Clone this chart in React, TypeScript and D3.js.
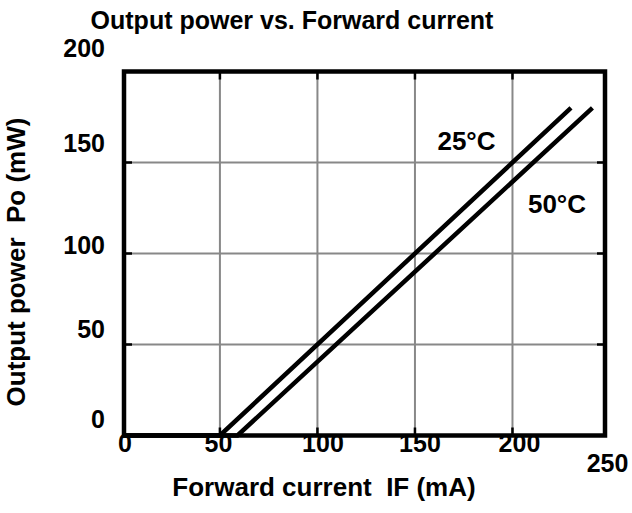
import React from 'react';
import * as d3 from 'd3';

// curve data: forward current IF (mA) vs output power Po (mW)
const if25 = [0, 50, 230];
const po25 = [0, 0, 180];
const if50 = [0, 59, 241];
const po50 = [0, 0, 180];

const xTicks = [0, 50, 100, 150, 200, 250];
const yTicks = [0, 50, 100, 150, 200];
const gridX = [50, 100, 150, 200];
const gridY = [50, 100, 150];

const W = 632;
const H = 513;
const FONT = '"Liberation Sans", Arial, sans-serif';

// label nudges to mimic the original (it isn't very tidy)
const yLabelDy: Record<number, number> = { 0: -7.5, 50: -6.5, 100: 0, 150: -10.5, 200: -14.5 };
const xLabelDx: Record<number, number> = { 0: 2.5, 50: -1.5, 100: 5.5, 150: 5, 200: 7, 250: -2.5 };

const App = () => {
  const x = d3.scaleLinear().domain([0, 250]).range([122.4, 610]);
  const y = d3.scaleLinear().domain([0, 200]).range([435.5, 71.5]);
  const frame = { left: 124, right: 605, top: y(200), bottom: y(0) };

  const line = d3.line<[number, number]>()
    .x(d => x(d[0]))
    .y(d => y(d[1]));

  const pts25 = if25.map((v, i) => [v, po25[i]] as [number, number]);
  const pts50 = if50.map((v, i) => [v, po50[i]] as [number, number]);

  return (
    <svg width={W} height={H} style={{ position: 'absolute', left: 0, top: 0, background: '#fff' }}
      fontFamily={FONT} fontWeight="bold">
      <rect width={W} height={H} fill="#fff" />
      <text x={292} y={29} textAnchor="middle" fontSize={25}>Output power vs. Forward current</text>

      {gridX.map(v => (
        <line key={'gx' + v} x1={x(v)} x2={x(v)} y1={frame.top} y2={frame.bottom} stroke="#888" strokeWidth={2} />
      ))}
      {gridY.map(v => (
        <line key={'gy' + v} x1={frame.left} x2={frame.right} y1={y(v)} y2={y(v)} stroke="#888" strokeWidth={2} />
      ))}

      {/* inward ticks */}
      {gridX.map(v => (
        <g key={'tx' + v} stroke="#000" strokeWidth={2.5}>
          <line x1={x(v)} x2={x(v)} y1={frame.top} y2={frame.top + 8} />
          <line x1={x(v)} x2={x(v)} y1={frame.bottom} y2={frame.bottom - 8} />
        </g>
      ))}
      {gridY.map(v => (
        <g key={'ty' + v} stroke="#000" strokeWidth={2.5}>
          <line x1={frame.left} x2={frame.left + 8} y1={y(v)} y2={y(v)} />
          <line x1={frame.right} x2={frame.right - 8} y1={y(v)} y2={y(v)} />
        </g>
      ))}

      <path d={line(pts25) || ''} fill="none" stroke="#000" strokeWidth={4.5} />
      <path d={line(pts50) || ''} fill="none" stroke="#000" strokeWidth={4.5} />

      <rect x={frame.left} y={frame.top} width={frame.right - frame.left} height={frame.bottom - frame.top}
        fill="none" stroke="#000" strokeWidth={4.5} />

      {yTicks.map(v => (
        <text key={'yl' + v} x={105} y={y(v) + yLabelDy[v]} textAnchor="end" fontSize={25}>{v}</text>
      ))}
      {xTicks.map(v => (
        <text key={'xl' + v} x={x(v) + xLabelDx[v]} y={v === 250 ? 472 : 452} textAnchor="middle" fontSize={25}>{v}</text>
      ))}

      <text x={466.5} y={150} textAnchor="middle" fontSize={26}>25°C</text>
      <text x={557} y={213} textAnchor="middle" fontSize={26}>50°C</text>

      <text x={324} y={496} textAnchor="middle" fontSize={26} xmlSpace="preserve"
        style={{ whiteSpace: 'pre' }}>Forward current  IF (mA)</text>
      <text transform="translate(25,262) rotate(-90)" textAnchor="middle" fontSize={26} xmlSpace="preserve"
        style={{ whiteSpace: 'pre' }}>Output power  Po (mW)</text>
    </svg>
  );
};

export default App;
